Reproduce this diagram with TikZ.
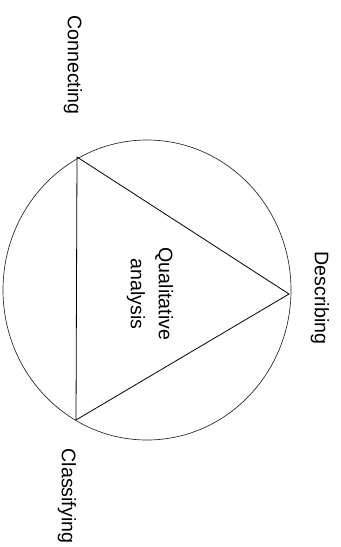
\documentclass[tikz,border=0pt]{standalone}
\usepackage{fontspec}
\setmainfont{Liberation Sans}
\usetikzlibrary{positioning}
\tikzset{
  stagetext/.style={font=\fontsize{14.7}{21}\selectfont, rotate=-90,
    inner sep=0pt, align=center},
  rim/.style={line width=0.5pt, color=black!85},
  edge/.style={line width=0.6pt, color=black}
}
\begin{document}
\begin{tikzpicture}[x=0.75pt,y=-0.75pt]
  \useasboundingbox (0,0) rectangle (341,547);
  % outer ring
  \draw[rim] (147,290) ellipse [x radius=144, y radius=150];
  % triangle corners on the ring
  \coordinate (conn) at (77,157);
  \coordinate (clas) at (76,420);
  \coordinate (desc) at (289,294);
  \draw[edge] (conn) -- (desc) -- (clas) -- cycle;
  % texts
  \node[stagetext] (centre) at (150,294) {Qualitative\\analysis};
  \node[stagetext] (connlabel) at (73,65) {Connecting};
  \node[stagetext] (deslabel) at (320,298) {Describing};
  \node[stagetext] (claslabel) at (67,496) {Classifying};
\end{tikzpicture}
\end{document}
